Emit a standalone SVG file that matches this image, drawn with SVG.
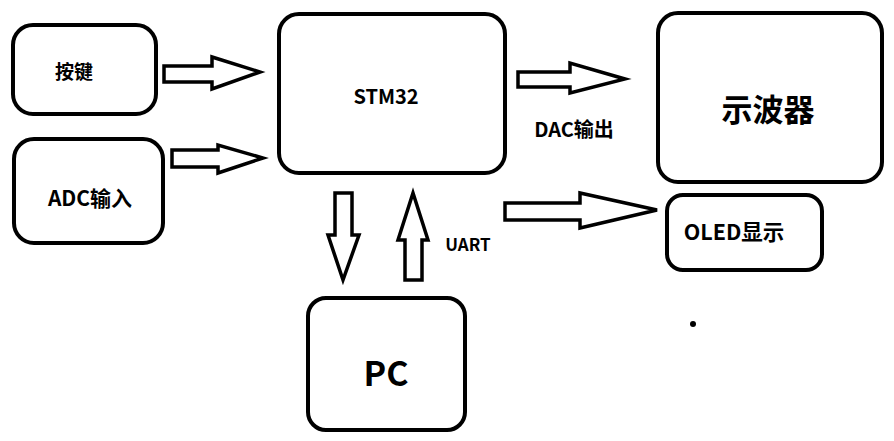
<svg xmlns="http://www.w3.org/2000/svg" width="894" height="441" viewBox="0 0 894 441">
<style>
.box{fill:#fff;stroke:#000;stroke-width:4}
.arr{fill:#fff;stroke:#000;stroke-width:3.5;stroke-linejoin:miter}
text{font-family:"Noto Sans CJK SC","Noto Sans",sans-serif;font-weight:bold;fill:#000;text-anchor:middle;dominant-baseline:central}
</style>
<rect width="894" height="441" fill="#fff"/>
<g id="connectors">
<polygon class="arr" points="164,66 212,66 212,57 260,72 212,89 212,82 164,82"/>
<polygon class="arr" points="172,150 218,150 218,145 263,158 218,173 218,167 172,167"/>
<polygon class="arr" points="518,72 570,72 570,63 625,79 570,93 570,87 518,87"/>
<polygon class="arr" points="505,203 580,203 580,193 657,210 580,228 580,220 505,220"/>
<polygon class="arr" points="335,193 352,193 352,235 359,235 343,280 328,235 335,235"/>
<polygon class="arr" points="405,280 422,280 422,240 428,240 413,193 398,240 405,240"/>
<text x="574" y="128" font-size="20">DAC输出</text>
<text x="468" y="243" font-size="17">UART</text>
</g>
<g id="key"><rect class="box" x="13" y="25" width="143" height="89" rx="20"/><text x="74" y="70" font-size="19">按键</text></g>
<g id="adc"><rect class="box" x="14" y="139" width="149" height="104" rx="20"/><text x="90" y="197" font-size="21">ADC输入</text></g>
<g id="stm32"><rect class="box" x="279" y="14" width="226" height="159" rx="20"/><text x="386" y="95" font-size="20">STM32</text></g>
<g id="scope"><rect class="box" x="658" y="13" width="224" height="169" rx="20"/><text x="768" y="107" font-size="31">示波器</text></g>
<g id="oled"><rect class="box" x="667" y="195" width="155" height="75" rx="16"/><text x="734" y="230" font-size="21.5">OLED显示</text></g>
<g id="pc"><rect class="box" x="308" y="298" width="157" height="132" rx="18"/><text x="386" y="371" font-size="34">PC</text></g>
<circle cx="693" cy="324" r="3" fill="#000"/>
</svg>
